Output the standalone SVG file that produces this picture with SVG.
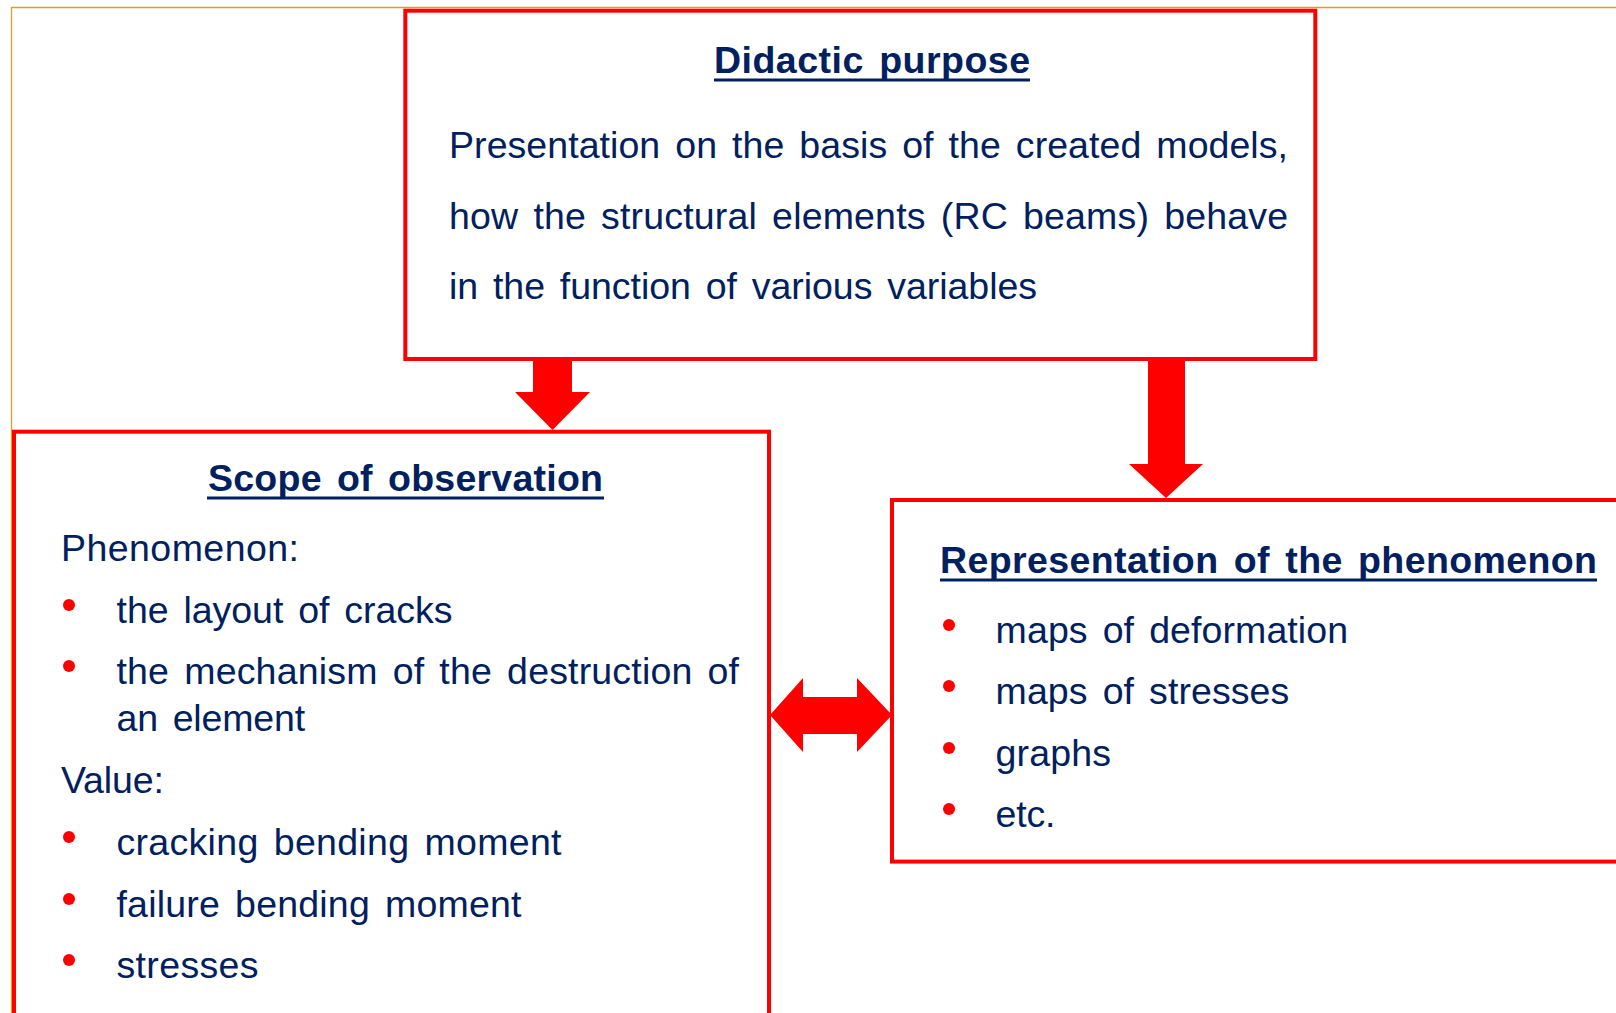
<svg xmlns="http://www.w3.org/2000/svg" width="1616" height="1013" viewBox="0 0 1616 1013">
  <style>
    .box { fill: #ffffff; stroke: #ff0000; stroke-width: 4; }
    .arrow { fill: #ff0000; stroke: none; }
    .t { font-family: "Liberation Sans", Arial, sans-serif; font-size: 37.5px; fill: #002060; word-spacing: 4.5px; }
    .h { font-weight: bold; }
    .ul { stroke: #002060; stroke-width: 3; }
    .dot { fill: #ff0000; }
  </style>

  <rect x="0" y="0" width="1616" height="1013" fill="#ffffff"/>
  <!-- thin gold frame -->
  <path d="M11.5,1013 V7.5 H1616" fill="none" stroke="#dda020" stroke-width="1.3"/>

  <!-- connectors -->
  <g id="connectors">
    <polygon class="arrow" points="533,359 572,359 572,392 590,392 552.5,430 515,392 533,392"/>
    <polygon class="arrow" points="1148,359 1185,359 1185,464 1203,464 1166,498 1129,464 1148,464"/>
    <polygon class="arrow" points="770,715 803,678 803,697 857,697 857,678 892,715 857,752 857,734 803,734 803,752"/>
  </g>

  <!-- Didactic purpose -->
  <g id="node-didactic">
    <rect class="box" x="405.3" y="10.7" width="910" height="348.3"/>
    <text class="t h" x="714" y="72.5" textLength="316" lengthAdjust="spacing">Didactic purpose</text>
    <line class="ul" x1="714" y1="80" x2="1030" y2="80"/>
    <text class="t" x="449" y="157.5" textLength="839" lengthAdjust="spacing">Presentation on the basis of the created models,</text>
    <text class="t" x="449" y="228.5" textLength="839" lengthAdjust="spacing">how the structural elements (RC beams) behave</text>
    <text class="t" x="449" y="299" textLength="588" lengthAdjust="spacing">in the function of various variables</text>
  </g>

  <!-- Scope of observation -->
  <g id="node-scope">
    <rect class="box" x="14" y="431.7" width="755" height="620"/>
    <text class="t h" x="208" y="491" textLength="395" lengthAdjust="spacing">Scope of observation</text>
    <line class="ul" x1="207" y1="498" x2="604" y2="498"/>
    <text class="t" x="61" y="561" textLength="238" lengthAdjust="spacing">Phenomenon:</text>
    <circle class="dot" cx="69" cy="605" r="6"/>
    <text class="t" x="116.5" y="623" textLength="336" lengthAdjust="spacing">the layout of cracks</text>
    <circle class="dot" cx="69" cy="666" r="6"/>
    <text class="t" x="116.5" y="684" textLength="622.5" lengthAdjust="spacing">the mechanism of the destruction of</text>
    <text class="t" x="116.5" y="731" textLength="188.6" lengthAdjust="spacing">an element</text>
    <text class="t" x="61" y="793" textLength="103" lengthAdjust="spacing">Value:</text>
    <circle class="dot" cx="69" cy="837" r="6"/>
    <text class="t" x="116.5" y="855" textLength="445" lengthAdjust="spacing">cracking bending moment</text>
    <circle class="dot" cx="69" cy="899" r="6"/>
    <text class="t" x="116.5" y="917" textLength="405" lengthAdjust="spacing">failure bending moment</text>
    <circle class="dot" cx="69" cy="960" r="6"/>
    <text class="t" x="116.5" y="978" textLength="142" lengthAdjust="spacing">stresses</text>
  </g>

  <!-- Representation of the phenomenon -->
  <g id="node-representation">
    <rect class="box" x="892" y="500" width="760" height="361.6"/>
    <text class="t h" x="940" y="573" textLength="657" lengthAdjust="spacing">Representation of the phenomenon</text>
    <line class="ul" x1="940" y1="580" x2="1597" y2="580"/>
    <circle class="dot" cx="949" cy="625" r="6"/>
    <text class="t" x="995.6" y="642.5" textLength="352.5" lengthAdjust="spacing">maps of deformation</text>
    <circle class="dot" cx="949" cy="686" r="6"/>
    <text class="t" x="995.6" y="704" textLength="293.7" lengthAdjust="spacing">maps of stresses</text>
    <circle class="dot" cx="949" cy="748" r="6"/>
    <text class="t" x="995.6" y="766" textLength="115.4" lengthAdjust="spacing">graphs</text>
    <circle class="dot" cx="949" cy="809" r="6"/>
    <text class="t" x="995.6" y="827" textLength="59.8" lengthAdjust="spacing">etc.</text>
  </g>
</svg>
